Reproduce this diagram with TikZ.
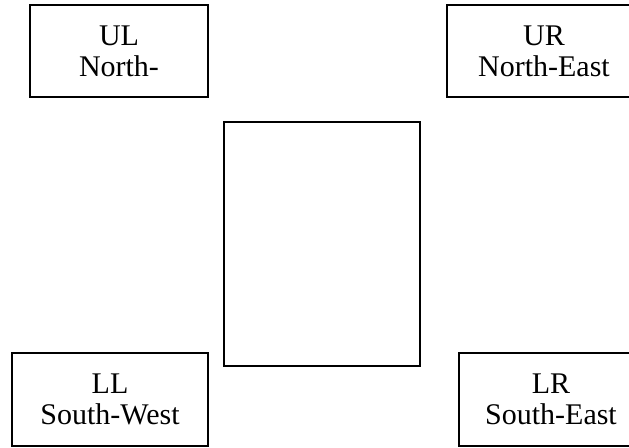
\documentclass[tikz,border=0pt]{standalone}
\usepackage{fontspec}
\setmainfont{Liberation Serif}
\usepackage{tikz}
\tikzset{box/.style={shape=rectangle, draw=black, line width=1pt, align=center,
    inner sep=0pt, font=\fontsize{15}{15.5}\selectfont}}

\begin{document}
\begin{tikzpicture}[x=0.5pt, y=-0.5pt]

            \clip (0,0) rectangle (629,447);

            \node[box, minimum width=89pt, minimum height=46pt] (UL) at (119,51) {UL\\North-};
            \node[box, minimum width=97pt, minimum height=46pt] (UR) at (544,51) {UR\\North-East};
            \node[box, minimum width=98pt, minimum height=122pt] (M) at (322,244) {};
            \node[box, minimum width=98pt, minimum height=46.5pt] (LL) at (110,399.5) {LL\\South-West};
            \node[box, minimum width=92pt, minimum height=46.5pt] (LR) at (551,399.5) {LR\\South-East};

        \end{tikzpicture}
\end{document}
